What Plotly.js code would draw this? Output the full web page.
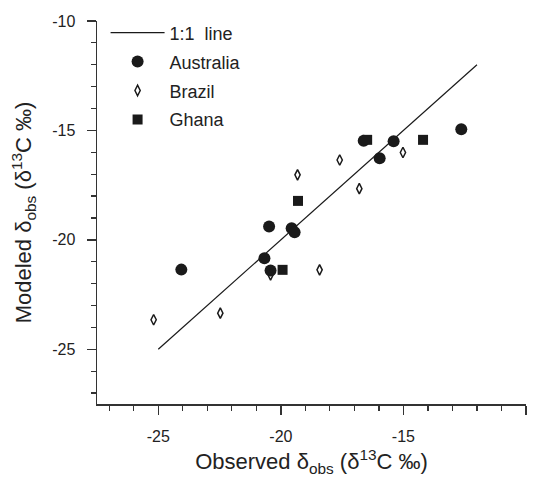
<!DOCTYPE html>
<html>
<head>
<meta charset="utf-8">
<script src="https://cdn.plot.ly/plotly-3.0.1.min.js"></script>
<style>html,body{margin:0;padding:0;background:#fff;}#chart{width:537px;height:481px;}</style>
</head>
<body>
<div id="chart"></div>
<script>
// 1:1 reference line
const lineX = [-25, -12];
const lineY = [-25, -12];

// Australia (observed, modeled)
const australiaObs = [-24.06, -20.67, -20.48, -20.42, -19.56, -19.44, -16.62, -15.40, -15.97, -12.64];
const australiaMod = [-21.36, -20.84, -19.39, -21.40, -19.47, -19.65, -15.47, -15.49, -16.27, -14.95];

// Brazil
const brazilObs = [-19.32, -17.60, -15.02, -16.80, -18.42, -20.42, -25.19, -22.47];
const brazilMod = [-17.03, -16.35, -16.01, -17.66, -21.37, -21.60, -23.65, -23.35];

// Ghana
const ghanaObs = [-16.48, -14.20, -19.30, -19.93];
const ghanaMod = [-15.43, -15.43, -18.22, -21.37];

const seriesNames = ["1:1\u00a0 line", "Australia", "Brazil", "Ghana"];
const tickVals = [-25, -20, -15, -10];
const tickText = ["-25", "-20", "-15", "-10"];

const FONT = "Liberation Sans, Arial, Helvetica, sans-serif";
const INK = "#1a1a1a";

const traces = [
  {x: lineX, y: lineY, mode: "lines", name: seriesNames[0], legendgroup: "a",
   line: {color: INK, width: 1.2}},
  {x: australiaObs, y: australiaMod, mode: "markers", name: seriesNames[1], legendgroup: "b",
   marker: {symbol: "circle", size: 12, color: INK}},
  {x: brazilObs, y: brazilMod, mode: "markers", name: seriesNames[2], legendgroup: "c",
   marker: {symbol: "diamond-tall-open", size: 7.5, color: INK, line: {color: INK, width: 1.5}}},
  {x: ghanaObs, y: ghanaMod, mode: "markers", name: seriesNames[3], legendgroup: "d",
   marker: {symbol: "square", size: 10, color: INK}}
];

const axisCommon = {
  range: [-27.5, -10],
  tickvals: tickVals,
  ticktext: tickText,
  showgrid: false,
  zeroline: false,
  showline: true,
  linecolor: "#333",
  linewidth: 1.5,
  ticks: "outside",
  ticklen: 9,
  tickwidth: 1.3,
  tickcolor: "#333",
  tickfont: {family: FONT, size: 16, color: "#222"},
  minor: {dtick: 1, tick0: -10, ticks: "outside", ticklen: 5, tickwidth: 1.2, tickcolor: "#333", showgrid: false},
  fixedrange: true
};

const layout = {
  width: 537,
  height: 481,
  margin: {l: 97, r: 11, t: 21, b: 77, pad: 0},
  paper_bgcolor: "#fff",
  plot_bgcolor: "#fff",
  font: {family: FONT, color: "#222"},
  showlegend: true,
  legend: {
    x: 0.02, y: 1.017, xanchor: "left", yanchor: "top",
    bgcolor: "rgba(0,0,0,0)",
    font: {family: FONT, size: 18, color: "#222"},
    itemwidth: 54,
    tracegroupgap: 2.5,
    traceorder: "grouped"
  },
  xaxis: Object.assign({}, axisCommon, {
    ticklabelstandoff: 8,
    title: {text: "Observed δ<sub>obs</sub> (δ<sup>13</sup>C ‰)", font: {family: FONT, size: 22, color: "#222"}, standoff: 10}
  }),
  yaxis: Object.assign({}, axisCommon, {
    ticklabelstandoff: 8,
    title: {text: "Modeled δ<sub>obs</sub> (δ<sup>13</sup>C ‰)", font: {family: FONT, size: 22, color: "#222"}, standoff: 14}
  })
};

Plotly.newPlot("chart", traces, layout, {displayModeBar: false, staticPlot: true});
</script>
</body>
</html>
